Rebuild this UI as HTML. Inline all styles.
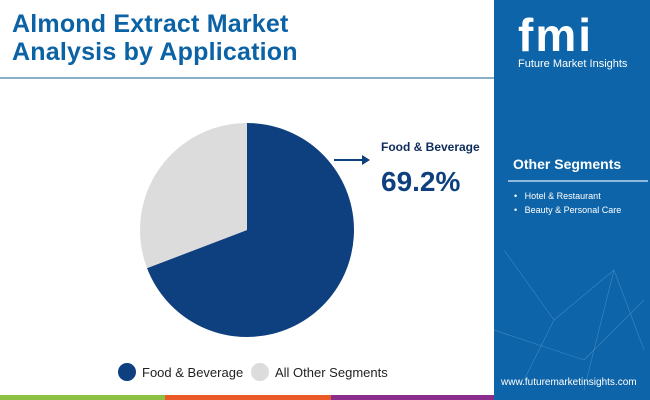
<!DOCTYPE html>
<html><head><meta charset="utf-8"><style>
body{margin:0;width:650px;height:400px;overflow:hidden;background:#fff;font-family:"Liberation Sans",sans-serif;position:relative}
.abs{position:absolute}
</style></head><body>
<div class="abs" style="left:12px;top:10px;font-size:25px;font-weight:bold;color:#0b62a4;line-height:28px;letter-spacing:0.2px">Almond Extract Market<br>Analysis by Application</div>
<div class="abs" style="left:0;top:77px;width:496px;height:2px;background:#8ab0c8"></div>
<svg class="abs" style="left:0;top:0" width="496" height="400">
<g id="pie"></g>
<line x1="334" y1="160" x2="362" y2="160" stroke="#0e3f7e" stroke-width="2"/>
<polygon points="362,155 370,160 362,165" fill="#0e3f7e"/>
<text x="381" y="151" font-size="12" font-weight="bold" fill="#0e2d5c">Food &amp; Beverage</text>
<text x="381" y="191" font-size="28" font-weight="bold" fill="#0e3f7e">69.2%</text>
<circle cx="127" cy="372" r="9" fill="#0e3f7e"/>
<text x="142" y="377" font-size="13" fill="#222">Food &amp; Beverage</text>
<circle cx="260" cy="372" r="9" fill="#dcdcdc"/>
<text x="275" y="377" font-size="13" fill="#222">All Other Segments</text>
</svg>
<div class="abs" style="left:494px;top:0;width:156px;height:400px;background:#0d64a8">
<svg class="abs" style="left:0;top:230px" width="156" height="170">
<g stroke="#5da0d6" stroke-width="0.6" opacity="0.6">
<line x1="10" y1="20" x2="60" y2="90"/><line x1="60" y1="90" x2="120" y2="40"/><line x1="120" y1="40" x2="150" y2="120"/><line x1="30" y1="150" x2="60" y2="90"/><line x1="90" y1="160" x2="120" y2="40"/><line x1="0" y1="100" x2="90" y2="130"/><line x1="90" y1="130" x2="150" y2="70"/></g></svg>
<div class="abs" style="left:24px;top:12px;font-size:46px;font-weight:bold;color:#fff;letter-spacing:2px;line-height:46px">fmi</div>
<div class="abs" style="left:24px;top:58px;font-size:11px;color:#fff">Future Market Insights</div>
<div class="abs" style="left:19px;top:156px;font-size:14px;font-weight:bold;color:#fff">Other Segments</div>
<div class="abs" style="left:14px;top:180px;width:140px;height:2px;background:#8fb9de"></div>
<div class="abs" style="left:20px;top:191px;font-size:9px;color:#fff">•&nbsp;&nbsp;&nbsp;Hotel &amp; Restaurant</div>
<div class="abs" style="left:20px;top:205px;font-size:9px;color:#fff">•&nbsp;&nbsp;&nbsp;Beauty &amp; Personal Care</div>
<div class="abs" style="left:7px;top:377px;font-size:10px;color:#fff">www.futuremarketinsights.com</div>
</div>
<div class="abs" style="left:0;top:395px;width:165px;height:5px;background:#8cc043"></div>
<div class="abs" style="left:165px;top:395px;width:166px;height:5px;background:#ea5a28"></div>
<div class="abs" style="left:331px;top:395px;width:163px;height:5px;background:#8a2d8c"></div>
<script>
const categories=["Food & Beverage","All Other Segments"];
const values=[69.2,30.8];
const colors=["#0e3f7e","#dcdcdc"];
const cx=247,cy=230,r=107;
const g=document.getElementById('pie');
const total=values.reduce((a,b)=>a+b,0);
let a0=0;
values.forEach((v,i)=>{
 const a1=a0+v/total*2*Math.PI;
 const p=(a)=>[cx+r*Math.sin(a),cy-r*Math.cos(a)];
 const [x0,y0]=p(a0),[x1,y1]=p(a1);
 const path=document.createElementNS('http://www.w3.org/2000/svg','path');
 path.setAttribute('d',`M${cx},${cy}L${x0},${y0}A${r},${r} 0 ${a1-a0>Math.PI?1:0} 1 ${x1},${y1}Z`);
 path.setAttribute('fill',colors[i]);
 
 
 g.appendChild(path);
 a0=a1;
});
</script>
</body></html>
